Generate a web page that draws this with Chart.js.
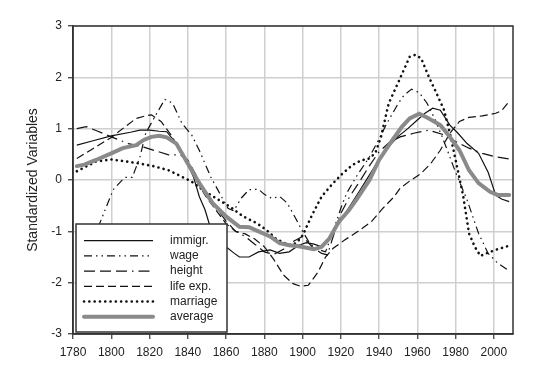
<!DOCTYPE html>
<html>
<head>
<meta charset="utf-8">
<script src="https://cdn.jsdelivr.net/npm/chart.js@4/dist/chart.umd.min.js"></script>
<style>
  body { margin: 0; background: #fff; }
</style>
</head>
<body>
<canvas id="varChart" width="559" height="368"></canvas>
<script>
// values (standardized)
var immigrYears = [1782,1790,1800,1810,1815,1820,1825,1829,1834,1839,1843,1846,1849,1852,1856,1860,1864,1867,1872,1877,1883,1888,1893,1898,1902,1906,1910,1913,1918,1924,1930,1935,1940,1945,1950,1955,1960,1964,1968,1972,1977,1981,1986,1992,1997,2001,2004,2008];
var immigrVals  = [0.68,0.76,0.86,0.93,0.97,0.97,0.95,0.94,0.71,0.39,0.06,-0.32,-0.58,-0.95,-1.15,-1.3,-1.42,-1.5,-1.5,-1.4,-1.36,-1.43,-1.4,-1.27,-1.22,-1.25,-1.3,-1.18,-0.9,-0.55,-0.2,0.1,0.4,0.65,0.85,1.0,1.17,1.3,1.4,1.36,1.07,0.92,0.71,0.52,0.15,-0.3,-0.37,-0.42];

var wageYears = [1782,1788,1794,1801,1807,1811,1815,1818,1823,1828,1832,1837,1842,1846,1852,1858,1861,1864,1868,1872,1877,1880,1884,1888,1892,1896,1900,1904,1908,1912,1916,1920,1923,1928,1935,1940,1944,1950,1953,1957,1961,1965,1969,1973,1977,1980,1986,1992,1997,2002,2008];
var wageVals  = [-2.2,-1.5,-0.84,-0.19,0.05,0.05,0.45,0.91,1.25,1.57,1.5,1.1,0.88,0.58,0.06,-0.35,-0.55,-0.6,-0.35,-0.19,-0.18,-0.28,-0.36,-0.32,-0.45,-0.72,-1.0,-1.25,-1.35,-1.4,-1.0,-0.55,-0.26,0.06,0.45,0.8,1.1,1.49,1.65,1.77,1.7,1.5,1.2,0.84,0.45,0.15,-0.39,-1.04,-1.43,-1.62,-1.77];

var heightYears = [1782,1787,1793,1800,1809,1817,1823,1830,1836,1840,1845,1850,1855,1860,1865,1870,1875,1880,1885,1890,1895,1900,1905,1910,1913,1916,1920,1925,1930,1935,1940,1945,1951,1958,1966,1974,1980,1987,1994,2001,2008];
var heightVals  = [1.0,1.04,0.95,0.84,0.71,0.64,0.57,0.49,0.49,0.39,0.05,-0.3,-0.55,-0.8,-1.0,-1.1,-1.25,-1.4,-1.45,-1.35,-1.2,-1.1,-1.3,-1.43,-1.46,-1.1,-0.65,-0.3,-0.02,0.28,0.55,0.72,0.84,0.91,0.97,0.88,0.75,0.62,0.52,0.45,0.41];

var lifeYears = [1782,1790,1800,1807,1813,1818,1821,1826,1832,1836,1840,1845,1850,1855,1860,1865,1870,1875,1880,1885,1890,1895,1899,1903,1908,1912,1916,1922,1929,1936,1942,1948,1951,1956,1962,1967,1972,1977,1982,1987,1994,2001,2004,2008];
var lifeVals  = [0.42,0.6,0.83,1.03,1.2,1.25,1.27,1.14,0.84,0.55,0.3,-0.05,-0.35,-0.6,-0.85,-1.0,-1.05,-1.15,-1.3,-1.55,-1.85,-2.02,-2.07,-2.05,-1.8,-1.5,-1.33,-1.17,-1.0,-0.81,-0.55,-0.32,-0.16,-0.02,0.13,0.32,0.58,0.91,1.14,1.22,1.25,1.3,1.35,1.53];

var marriageYears = [1782,1792,1800,1808,1815,1822,1830,1836,1842,1848,1855,1862,1869,1876,1881,1886,1890,1894,1897,1900,1905,1910,1916,1921,1926,1931,1934,1938,1941,1945,1950,1953,1956,1959,1962,1966,1970,1974,1977,1980,1984,1987,1990,1993,1996,2001,2008];
var marriageVals  = [0.17,0.36,0.40,0.36,0.32,0.27,0.19,0.08,-0.03,-0.2,-0.36,-0.52,-0.71,-0.84,-0.97,-1.14,-1.22,-1.27,-1.22,-1.08,-0.68,-0.32,-0.06,0.13,0.29,0.39,0.40,0.52,0.84,1.49,1.9,2.15,2.4,2.44,2.37,2.01,1.69,1.36,0.91,0.39,-0.32,-1.04,-1.3,-1.48,-1.43,-1.36,-1.28];

var averageYears = [1782,1786,1792,1800,1806,1813,1817,1821,1825,1829,1834,1840,1846,1853,1860,1867,1872,1877,1883,1888,1893,1898,1902,1906,1910,1914,1919,1924,1928,1935,1940,1947,1952,1956,1961,1966,1972,1977,1982,1987,1992,1998,2002,2008];
var averageVals  = [0.27,0.3,0.39,0.52,0.62,0.68,0.78,0.84,0.86,0.83,0.71,0.32,-0.06,-0.45,-0.71,-0.91,-0.92,-1.0,-1.1,-1.23,-1.27,-1.29,-1.32,-1.35,-1.3,-1.14,-0.81,-0.6,-0.39,0.0,0.39,0.78,1.04,1.2,1.29,1.2,1.07,0.84,0.58,0.19,-0.06,-0.23,-0.29,-0.29];

var seriesLabels = ['immigr.', 'wage', 'height', 'life exp.', 'marriage', 'average'];
var xTickValues = [1780,1800,1820,1840,1860,1880,1900,1920,1940,1960,1980,2000];

var FONT = '"Liberation Sans", Arial, sans-serif';

function toPoints(years, vals){
    return years.map(function(yr, i){ return {x: yr, y: vals[i]}; });
}

function lineSet(label, years, vals, style){
    var ds = {
        label: label,
        data: toPoints(years, vals),
        borderColor: '#111',
        borderWidth: 1.2,
        borderDash: [],
        borderCapStyle: 'butt',
        pointRadius: 0,
        tension: 0,
        fill: false
    };
    for (var k in style) ds[k] = style[k];
    return ds;
}

// frame round the plot area (top + right edges too)
var plotFrame = {
    id: 'plotFrame',
    afterDatasetsDraw: function(chart){
        var a = chart.chartArea, ctx = chart.ctx;
        ctx.save();
        ctx.strokeStyle = '#333';
        ctx.lineWidth = 1.5;
        ctx.strokeRect(a.left, a.top, a.right - a.left, a.bottom - a.top);
        ctx.restore();
    }
};

// legend drawn inside the plot, bottom left
var boxLegend = {
    id: 'boxLegend',
    afterDraw: function(chart){
        var ctx = chart.ctx, a = chart.chartArea;
        var left = a.left + 3, w = 151, h = 108;
        var top = a.bottom - 2 - h;
        ctx.save();
        ctx.fillStyle = '#fff';
        ctx.fillRect(left, top, w, h);
        ctx.strokeStyle = '#333';
        ctx.lineWidth = 1.5;
        ctx.strokeRect(left, top, w, h);
        chart.data.datasets.forEach(function(ds, i){
            var y = top + 16.7 + i * 15.2;
            ctx.beginPath();
            ctx.setLineDash(ds.borderDash || []);
            ctx.lineCap = ds.borderCapStyle || 'butt';
            ctx.lineWidth = ds.borderWidth;
            ctx.strokeStyle = ds.borderColor;
            ctx.moveTo(left + 8, y);
            ctx.lineTo(left + 77, y);
            ctx.stroke();
            ctx.setLineDash([]);
            ctx.fillStyle = '#222';
            ctx.font = '12px ' + FONT;
            ctx.textBaseline = 'middle';
            ctx.textAlign = 'left';
            ctx.fillText(ds.label, left + 94, y);
        });
        ctx.restore();
    }
};

var ctx = document.getElementById('varChart').getContext('2d');
var myChart = new Chart(ctx, {
    type: 'line',
    data: {
        datasets: [
            lineSet(seriesLabels[0], immigrYears, immigrVals, {}),
            lineSet(seriesLabels[1], wageYears, wageVals, {borderDash: [8,4,1.5,4,1.5,4]}),
            lineSet(seriesLabels[2], heightYears, heightVals, {borderDash: [11,5,11,5,11,5,1.5,5]}),
            lineSet(seriesLabels[3], lifeYears, lifeVals, {borderDash: [8,4]}),
            lineSet(seriesLabels[4], marriageYears, marriageVals, {borderDash: [0.1,5.2], borderWidth: 2.6, borderCapStyle: 'round'}),
            lineSet(seriesLabels[5], averageYears, averageVals, {borderColor: '#8a8a8a', borderWidth: 4, borderCapStyle: 'round', order: -1})
        ]
    },
    options: {
        responsive: false,
        animation: false,
        devicePixelRatio: 1,
        layout: { padding: { left: 25, right: 46, top: 26, bottom: 0 } },
        plugins: {
            legend: { display: false },
            tooltip: { enabled: false }
        },
        scales: {
            x: {
                type: 'linear',
                min: 1780,
                max: 2010,
                afterBuildTicks: function(scale){
                    scale.ticks = xTickValues.map(function(v){ return {value: v}; });
                },
                afterFit: function(scale){ scale.height = 34; },
                ticks: {
                    autoSkip: false,
                    maxRotation: 0,
                    padding: 6,
                    color: '#222',
                    font: { family: FONT, size: 12 },
                    callback: function(v){ return String(v); }
                },
                grid: { color: '#cfcfcf', lineWidth: 1.5, tickColor: '#333', tickLength: 5, tickWidth: 1.2 },
                border: { color: '#333', width: 1.5 }
            },
            y: {
                min: -3,
                max: 3,
                afterFit: function(scale){ scale.width = 48; },
                ticks: {
                    stepSize: 1,
                    padding: 6,
                    color: '#222',
                    font: { family: FONT, size: 12 }
                },
                title: {
                    display: true,
                    text: 'Standardized Variables',
                    color: '#222',
                    padding: 0,
                    font: { family: FONT, size: 14 }
                },
                grid: { color: '#cfcfcf', lineWidth: 1.5, tickColor: '#333', tickLength: 5, tickWidth: 1.2 },
                border: { color: '#333', width: 1.5 }
            }
        }
    },
    plugins: [plotFrame, boxLegend]
});
</script>
</body>
</html>
